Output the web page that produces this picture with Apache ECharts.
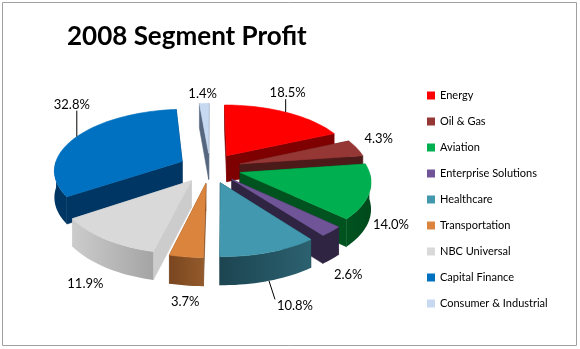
<!DOCTYPE html>
<html><head><meta charset="utf-8">
<script src="https://cdn.jsdelivr.net/npm/echarts@6/dist/echarts.min.js"></script>
<style>html,body{margin:0;padding:0;background:#fff}#c{width:580px;height:349px}</style>
</head><body><div id="c"></div>
<script>
// ---- data ----
const categories = ['Energy','Oil & Gas','Aviation','Enterprise Solutions','Healthcare','Transportation','NBC Universal','Capital Finance','Consumer & Industrial'];
const values = [18.5, 4.3, 14.0, 2.6, 10.8, 3.7, 11.9, 32.8, 1.4];
const percentLabels = ['18.5%','4.3%','14.0%','2.6%','10.8%','3.7%','11.9%','32.8%','1.4%'];

// ---- style ----
const topColors   = ['#ff0000','#953735','#00b050','#6f5597','#4198af','#db843d','#d9d9d9','#0070c0','#c6d9f1'];
const wallColors  = ['#7f0000','#4b1a19','#00521f','#2f2442','#1c4551','#7a4620','#cccccc','#003663','#55667e'];
const wallColors2 = ['#7f0000','#4b1a19','#004a1c','#2f2442','#2c6170','#935a2b','#a4a4a4','#003663','#55667e'];
const labelNudge = [[2,-19],[22,-9],[21.5,6],[17,15],[26,24.5],[-1,16],[-20,16],[-5,-32],[-1.5,-10]];
const leaderLine = [true,false,false,false,true,false,false,true,false];

// ---- 3D pie layout ----
const CX = 210, CY = 168, RX = 128, RY = 62, PERSP = 0.13, EXPLODE = 0.245, DEPTH = 26.5;
function proj(u, v, h) {
  const p = 1 - PERSP * v;
  return [CX + u * RX * p, CY - v * RY * p + h * DEPTH * (1 - 0.5 * PERSP * v)];
}
const total = values.reduce((a, b) => a + b, 0);
const starts = []; let acc = 0; values.forEach(v => { starts.push(acc); acc += v; });

function renderSlice(i, api) {
  const val = api.value(0);
  const a0 = starts[i] / total * 2 * Math.PI;
  const a1 = a0 + val / total * 2 * Math.PI;
  const mid = (a0 + a1) / 2;
  const ou = EXPLODE * Math.sin(mid), ov = EXPLODE * Math.cos(mid);
  const pt = (a, r, h) => proj(ou + r * Math.sin(a), ov + r * Math.cos(a), h);
  const n = Math.max(2, Math.ceil((a1 - a0) / (Math.PI / 90)));
  const angs = []; for (let j = 0; j <= n; j++) angs.push(a0 + (a1 - a0) * j / n);
  const zOf = v => Math.round((2 - v) * 200);
  const poly = (points, fill, z2, stroke) => ({type: 'polygon', shape: {points}, style: {fill, stroke: stroke || fill, lineWidth: 0.6, lineJoin: 'round'}, z2});
  const children = [];
  [a0, a1].forEach(a => {
    children.push(poly([pt(a, 0, 0), pt(a, 1, 0), pt(a, 1, 1), pt(a, 0, 1)], wallColors[i], zOf(ov + 0.5 * Math.cos(a))));
  });
  // outer wall: front-facing part as one polygon
  const fa = angs.filter(a => Math.cos(a) <= 0.02);
  if (fa.length >= 2) {
    const topPts = fa.map(a => pt(a, 1, 0));
    const botPts = fa.slice().reverse().map(a => pt(a, 1, 1));
    const mv = ov + Math.cos((fa[0] + fa[fa.length - 1]) / 2);
    const grad = new echarts.graphic.LinearGradient(0, 0, 1, 0, [
      {offset: 0, color: wallColors[i]}, {offset: 1, color: wallColors2[i]}]);
    children.push(poly(topPts.concat(botPts), grad, zOf(mv), 'rgba(0,0,0,0)'));
  }
  children.push(poly([pt(0, 0, 0)].concat(angs.map(a => pt(a, 1, 0))), topColors[i], 1000));
  // label
  const front = Math.cos(mid) < 0;
  const anc = pt(mid, 1, front ? 1 : 0);
  const lx = anc[0] + labelNudge[i][0], ly = anc[1] + labelNudge[i][1];
  children.push({type: 'text', z2: 3000, style: {text: percentLabels[i], x: lx, y: ly, align: 'center', verticalAlign: 'middle', font: '13px Lato', fill: '#000'}});
  if (leaderLine[i]) {
    const hw = 20, hh = 6;
    const ex = Math.min(Math.max(anc[0], lx - hw), lx + hw);
    const ey = Math.min(Math.max(anc[1], ly - hh), ly + hh);
    children.push({type: 'line', z2: 2500, shape: {x1: anc[0], y1: anc[1], x2: ex, y2: ey}, style: {stroke: '#000', lineWidth: 1}});
  }
  return {type: 'group', children};
}

const chart = echarts.init(document.getElementById('c'));
chart.setOption({
  animation: false,
  backgroundColor: '#fff',
  title: {text: '2008 Segment Profit', left: 67, top: 24, padding: 0,
    textStyle: {fontFamily: 'Lato', fontWeight: 'bold', fontSize: 26, color: '#000'}},
  legend: {orient: 'vertical', left: 422, top: 84, itemWidth: 8, itemHeight: 8, itemGap: 13, icon: 'rect',
    textStyle: {fontFamily: 'Lato', fontSize: 11, lineHeight: 13, color: '#000'},
    data: categories},
  graphic: [{type: 'rect', shape: {x: 2.5, y: 2.5, width: 574, height: 343}, style: {fill: 'none', stroke: '#a0a0a0', lineWidth: 1}}],
  series: categories.map((name, i) => ({
    type: 'custom', name, coordinateSystem: 'none', silent: true,
    itemStyle: {color: topColors[i]},
    data: [[values[i]]],
    renderItem: (params, api) => renderSlice(i, api)
  }))
});
</script>
</body></html>
